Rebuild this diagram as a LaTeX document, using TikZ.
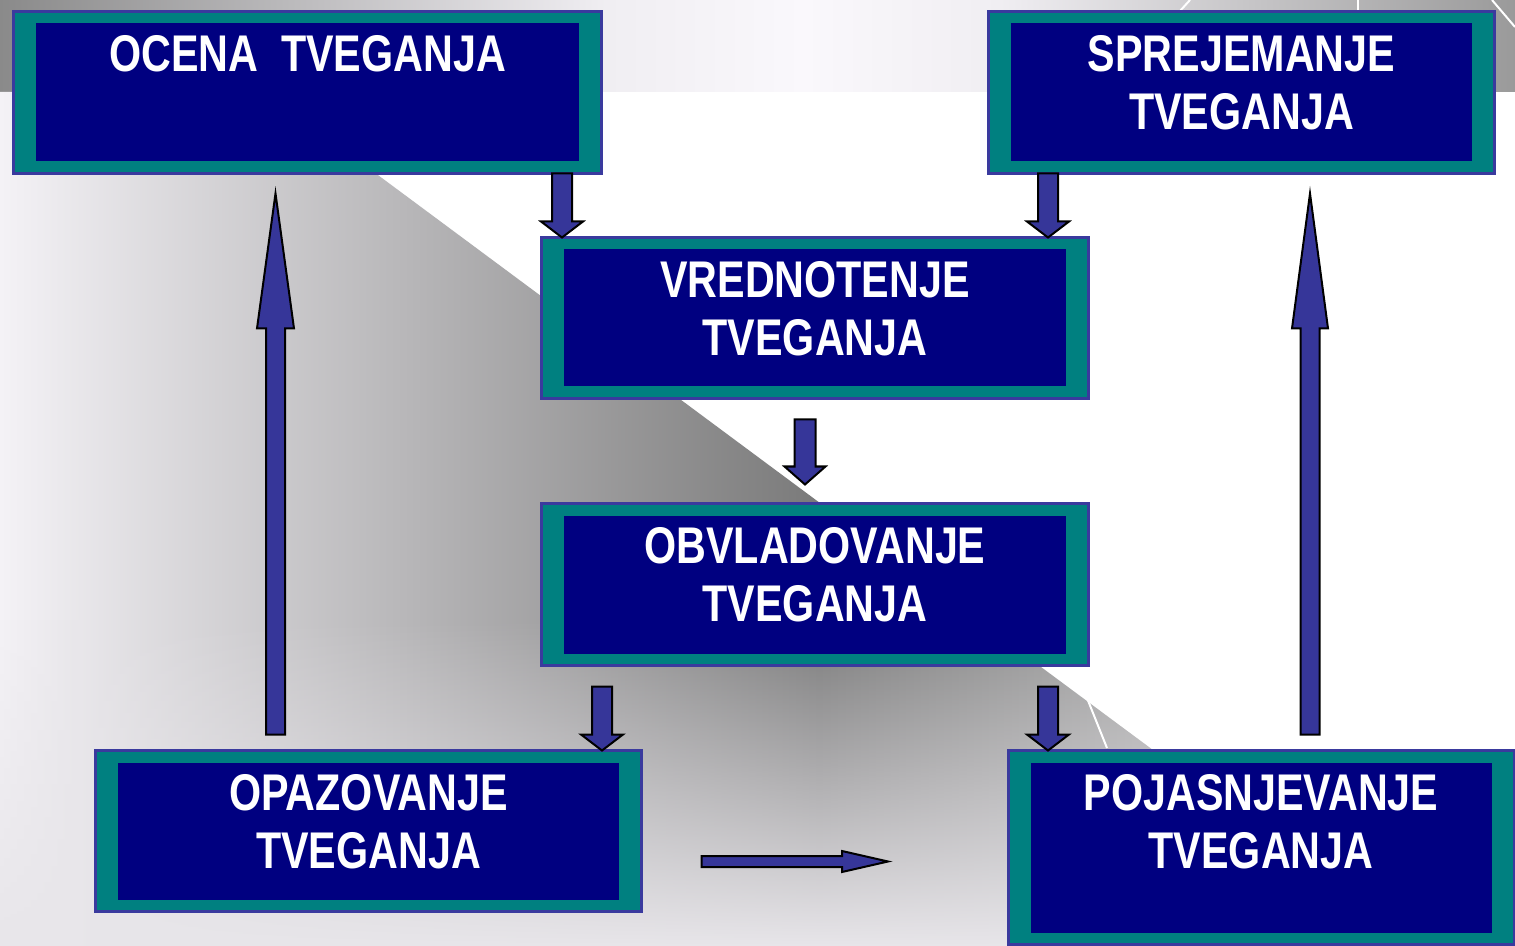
\documentclass[tikz,border=0pt]{standalone}
\usepackage{fontspec}
\newfontfamily\boxfont[FakeStretch=0.8]{Liberation Sans}
\usetikzlibrary{positioning, calc, fadings}
\definecolor{navybox}{HTML}{000080}
\definecolor{tealframe}{HTML}{008080}
\definecolor{boxedge}{HTML}{3A3A9E}
\definecolor{arrowfill}{HTML}{363699}
\definecolor{stripdark}{HTML}{8A8A8A}
\definecolor{stripmid}{HTML}{F0EEF2}
\definecolor{stripwhite}{HTML}{FAF8FC}
\definecolor{stripright}{HTML}{9A9A9A}
\definecolor{wedgelight}{HTML}{F4F2F6}
\definecolor{wedgedark}{HTML}{7A7A7A}
\definecolor{wedgemid}{HTML}{A6A6A6}
\definecolor{wedgefade}{HTML}{E8E6EA}
\pgfdeclarehorizontalshading{topband}{100bp}{color(0bp)=(stripdark); color(25bp)=(stripdark); color(45bp)=(stripmid); color(51.5bp)=(stripwhite); color(58bp)=(stripmid); color(75bp)=(stripright); color(100bp)=(stripright)}
\pgfdeclarehorizontalshading{wedgeband}{100bp}{color(0bp)=(wedgelight); color(25bp)=(wedgelight); color(53.9bp)=(wedgedark); color(65.6bp)=(wedgemid); color(75bp)=(wedgemid); color(100bp)=(wedgemid)}
\newcommand{\blockarrow}[5]{%
  \path ($(#2)!#5!(#1)$) coordinate (hb);
  \draw[arrowbody] ($(#1)!#3!90:(#2)$) -- ($(hb)!#3!90:(#2)$) -- ($(hb)!#4!90:(#2)$) -- (#2)
    -- ($(hb)!#4!-90:(#2)$) -- ($(hb)!#3!-90:(#2)$) -- ($(#1)!#3!-90:(#2)$) -- cycle;
}

\begin{document}
\begin{tikzpicture}[
  x=0.5pt, y=-0.5pt,
  riskbox/.style={rectangle, draw=boxedge, line width=1.5pt, fill=tealframe, outer sep=0pt, inner sep=0pt,
    path picture={\fill[navybox] ([xshift=11.25pt,yshift=-6pt]path picture bounding box.north west)
      rectangle ([xshift=-11.25pt,yshift=6pt]path picture bounding box.south east);}},
  boxtext/.style={text=white, font=\boxfont\bfseries\fontsize{25.8pt}{29pt}\selectfont, align=center, inner sep=0pt},
  arrowbody/.style={fill=arrowfill, draw=black, line width=1pt, line join=miter}
]
\useasboundingbox (0,0) rectangle (1515,946);
\fill[white] (0,0) rectangle (1515,946);
\shade[shading=topband] (0,0) rectangle (1515,92);
\shade[shading=wedgeband] (0,92) -- (266,92) -- (1417,946) -- (0,946) -- cycle;
\begin{scope}
  \clip (0,92) -- (266,92) -- (1417,946) -- (0,946) -- cycle;
  \fill[wedgefade, path fading=north] (0,620) rectangle (1417,946);
\end{scope}
\draw[white, line width=1pt] (1190,0) -- (1180,11);
\draw[white, line width=0.8pt] (1358,0) -- (1358,92);
\draw[white, line width=1pt] (1492,0) -- (1515,27);
\draw[white, line width=1pt] (1075,668) -- (1107,748);

\node[riskbox, minimum width=294pt, minimum height=81pt] (ocena) at (307.5,92.5) {};
\node[riskbox, minimum width=253pt, minimum height=81pt] (sprej) at (1241.5,92.5) {};
\node[riskbox, minimum width=273.5pt, minimum height=80.5pt] (vred) at (815,318) {};
\node[riskbox, minimum width=273.5pt, minimum height=81pt, below=52.5pt of vred] (obvl) {};
\node[riskbox, minimum width=273pt, minimum height=80.5pt] (opaz) at (368.5,831) {};
\node[riskbox, minimum width=253pt, minimum height=97pt] (pojas) at (1261,847.5) {};

\node[boxtext, below=12pt of ocena.north] (ocenatxt) {OCENA\ \ TVEGANJA};
\node[boxtext, below=12pt of sprej.north] (sprejtxt) {SPREJEMANJE\\TVEGANJA};
\node[boxtext, below=12pt of vred.north] (vredtxt) {VREDNOTENJE\\TVEGANJA};
\node[boxtext, below=12pt of obvl.north] (obvltxt) {OBVLADOVANJE\\TVEGANJA};
\node[boxtext, below=12pt of opaz.north] (opaztxt) {OPAZOVANJE\\TVEGANJA};
\node[boxtext, below=12pt of pojas.north] (pojastxt) {POJASNJEVANJE\\TVEGANJA};

\coordinate (at1) at ($(ocena.south east)+(-39.5,0)$);
\coordinate (ah1) at (at1 |- vred.north);
\coordinate (at2) at ($(sprej.south west)+(59.5,0)$);
\coordinate (ah2) at (at2 |- vred.north);
\coordinate (at3) at ($(vred.south)+(-10,21)$);
\coordinate (ah3) at ($(at3 |- obvl.north)+(0,-19)$);
\coordinate (at4) at ($(obvl.south west)+(60.5,21)$);
\coordinate (ah4) at (at4 |- opaz.north);
\coordinate (at5) at ($(obvl.south east)+(-40.5,21)$);
\coordinate (ah5) at (at5 |- pojas.north);
\coordinate (at6) at ($(opaz.east)+(60,30.5)$);
\coordinate (ah6) at ($(at6 -| pojas.west)+(-120,0)$);
\coordinate (at7) at ($(opaz.north west)+(180,-16)$);
\coordinate (ah7) at ($(at7 |- ocena.south)+(0,20)$);
\coordinate (at8) at ($(pojas.north west)+(302,-16)$);
\coordinate (ah8) at ($(at8 |- sprej.south)+(0,20)$);

\blockarrow{at1}{ah1}{5pt}{10.5pt}{8pt}
\blockarrow{at2}{ah2}{5pt}{10.5pt}{8pt}
\blockarrow{at3}{ah3}{5.25pt}{10.25pt}{9pt}
\blockarrow{at4}{ah4}{5pt}{10.5pt}{8pt}
\blockarrow{at5}{ah5}{5pt}{10.5pt}{8pt}
\blockarrow{at6}{ah6}{2.75pt}{5.25pt}{23pt}
\blockarrow{at7}{ah7}{4.75pt}{9.25pt}{67.5pt}
\blockarrow{at8}{ah8}{4.75pt}{9pt}{67.5pt}
\end{tikzpicture}
\end{document}
